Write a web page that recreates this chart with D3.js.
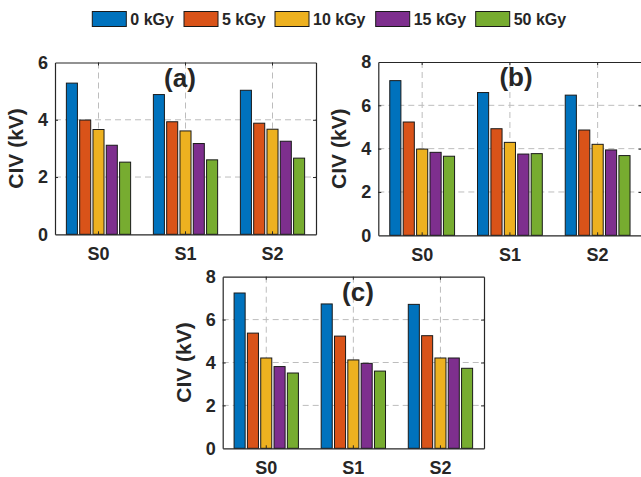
<!DOCTYPE html>
<html>
<head>
<meta charset="utf-8">
<script src="https://cdn.jsdelivr.net/npm/d3@7"></script>
<style>
  html, body { margin: 0; padding: 0; background: #fff; }
  svg { display: block; }
  text { font-family: "Liberation Sans", Arial, Helvetica, sans-serif; font-weight: bold; fill: #262626; }
</style>
</head>
<body>
<svg id="chart" width="641" height="477"></svg>
<script>
// Samples on the x axis and irradiation doses (one bar per dose)
const samples = ["S0", "S1", "S2"];
const doses = ["0 kGy", "5 kGy", "10 kGy", "15 kGy", "50 kGy"];
const doseColors = ["#0072BD", "#D95319", "#EDB120", "#7E2F8E", "#77AC30"];

// CIV (kV) per sample, columns in dose order
const civA = [
  [5.28, 3.99, 3.66, 3.11, 2.52],
  [4.88, 3.93, 3.61, 3.17, 2.60],
  [5.03, 3.88, 3.67, 3.25, 2.66]
];
const civB = [
  [7.14, 5.23, 3.98, 3.83, 3.65],
  [6.59, 4.92, 4.29, 3.75, 3.77],
  [6.47, 4.86, 4.20, 3.94, 3.68]
];
const civC = [
  [7.24, 5.37, 4.21, 3.81, 3.51],
  [6.73, 5.23, 4.12, 3.96, 3.60],
  [6.71, 5.25, 4.21, 4.21, 3.73]
];

const ticksA = [0, 2, 4, 6];
const ticksBC = [0, 2, 4, 6, 8];

const svg = d3.select("#chart");
const axisColor = "#262626";

function drawPanel(values, box, yTicks, label) {
  const g = svg.append("g");
  const yMax = yTicks[yTicks.length - 1];

  const x = d3.scaleBand().domain(samples).range([box.left, box.right]).padding(0);
  const xi = d3.scaleBand().domain(doses).range([0, x.bandwidth()])
    .paddingInner(0.17).paddingOuter(0.855);
  const y = d3.scaleLinear().domain([0, yMax]).range([box.bottom, box.top]);

  // dashed grid behind the bars
  const grid = g.append("g").attr("stroke", "#bdbdbd").attr("stroke-width", 1)
    .attr("stroke-dasharray", "6,4");
  yTicks.filter(t => t > 0 && t < yMax).forEach(t => {
    grid.append("line").attr("x1", box.left).attr("x2", box.right)
      .attr("y1", y(t)).attr("y2", y(t));
  });
  samples.forEach(s => {
    const cx = x(s) + x.bandwidth() / 2;
    grid.append("line").attr("x1", cx).attr("x2", cx)
      .attr("y1", box.top).attr("y2", box.bottom);
  });

  // grouped bars
  samples.forEach((s, si) => {
    g.append("g").selectAll("rect").data(values[si]).join("rect")
      .attr("x", (v, di) => x(s) + xi(doses[di]))
      .attr("width", xi.bandwidth())
      .attr("y", v => y(v))
      .attr("height", v => y(0) - y(v))
      .attr("fill", (v, di) => doseColors[di])
      .attr("stroke", "#1a1a1a")
      .attr("stroke-width", 1);
  });

  // axes (ticks pointing inward, box all round)
  const yAxis = d3.axisLeft(y).tickValues(yTicks).tickFormat(d3.format("d"))
    .tickSizeInner(-3).tickSizeOuter(0).tickPadding(7);
  const yg = g.append("g").attr("transform", `translate(${box.left},0)`).call(yAxis);
  yg.selectAll("text").style("font-size", "18px").attr("fill", axisColor);

  const xAxis = d3.axisBottom(x).tickSizeInner(-3).tickSizeOuter(0).tickPadding(10);
  const xg = g.append("g").attr("transform", `translate(0,${box.bottom})`).call(xAxis);
  xg.selectAll("text").style("font-size", "18px").attr("fill", axisColor).attr("dy", "0.88em");

  const yr = d3.axisRight(y).tickValues(yTicks).tickSizeInner(-3).tickSizeOuter(0).tickFormat("");
  g.append("g").attr("transform", `translate(${box.right},0)`).call(yr);
  const xt = d3.axisTop(x).tickSizeInner(-3).tickSizeOuter(0).tickFormat("");
  g.append("g").attr("transform", `translate(0,${box.top})`).call(xt);

  g.selectAll(".domain").attr("stroke", axisColor).attr("stroke-width", 1.2);
  g.selectAll(".tick line").attr("stroke", axisColor);
  g.selectAll(".tick").filter(d => d === 0 || d === yMax).select("line").remove();

  g.append("text")
    .attr("transform", `translate(${box.left - 32},${(box.top + box.bottom) / 2}) rotate(-90)`)
    .attr("text-anchor", "middle")
    .style("font-size", "21px")
    .text("CIV (kV)");

  g.append("text")
    .attr("x", label.x).attr("y", box.top + 24)
    .attr("text-anchor", "middle")
    .style("font-size", "26px")
    .attr("fill", "#000")
    .text(label.text);
}

drawPanel(civA, { left: 55, right: 316, top: 62.5, bottom: 234.3 }, ticksA, { text: "(a)", x: 180 });
drawPanel(civB, { left: 378.3, right: 641.5, top: 62, bottom: 235.3 }, ticksBC, { text: "(b)", x: 516 });
drawPanel(civC, { left: 222.7, right: 484, top: 276.7, bottom: 448.3 }, ticksBC, { text: "(c)", x: 358 });

// legend across the top
const legendX = [92.3, 184, 275, 375.7, 475.7];
const legend = svg.append("g");
doses.forEach((d, i) => {
  legend.append("rect")
    .attr("x", legendX[i]).attr("y", 11.5)
    .attr("width", 34).attr("height", 15)
    .attr("fill", doseColors[i])
    .attr("stroke", "#1a1a1a").attr("stroke-width", 1);
  legend.append("text")
    .attr("x", legendX[i] + 38).attr("y", 19)
    .attr("dy", "0.35em")
    .style("font-size", "16px")
    .attr("fill", "#000")
    .text(d);
});
</script>
</body>
</html>
